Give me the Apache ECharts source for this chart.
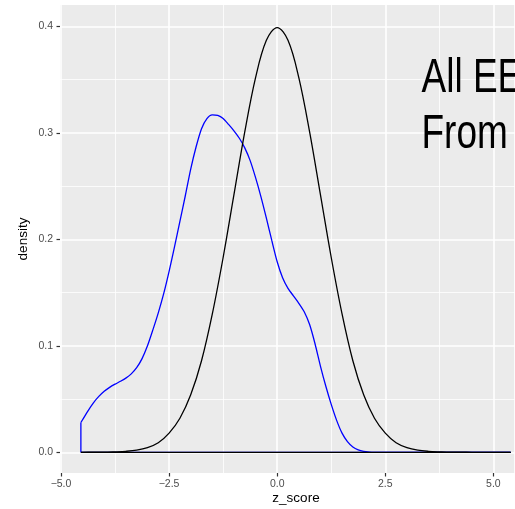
<!DOCTYPE html>
<html>
<head>
<meta charset="utf-8">
<script src="https://cdn.jsdelivr.net/npm/echarts@6/dist/echarts.min.js"></script>
<style>
html,body{margin:0;padding:0;background:#fff;}
#c{width:515px;height:509px;}
</style>
</head>
<body>
<div id="c"></div>
<script>
// black density curve: z_score positions and read densities
var blackZ = [-4.54, -4.25, -4, -3.75, -3.5, -3.25, -3, -2.75, -2.5, -2.25, -2, -1.75, -1.5, -1.25, -1, -0.75, -0.5, -0.25, 0, 0.25, 0.5, 0.75, 1, 1.25, 1.5, 1.75, 2, 2.25, 2.5, 2.75, 3, 3.25, 3.5, 3.75, 4, 4.25, 4.5, 4.75, 5, 5.25, 5.4];
var blackDensity = [0, 0.0001, 0.0001, 0.0004, 0.0009, 0.002, 0.0044, 0.009, 0.018, 0.032, 0.054, 0.086, 0.130, 0.183, 0.242, 0.301, 0.352, 0.387, 0.399, 0.387, 0.352, 0.301, 0.242, 0.183, 0.130, 0.086, 0.054, 0.032, 0.018, 0.009, 0.0044, 0.002, 0.0009, 0.0004, 0.0001, 0.0001, 0, 0, 0, 0, 0];
// blue density curve: z_score positions and read densities
var blueZ = [-4.54, -4.375, -4.25, -4.125, -4, -3.875, -3.75, -3.625, -3.5, -3.375, -3.25, -3.125, -3, -2.875, -2.75, -2.625, -2.5, -2.375, -2.25, -2.125, -2, -1.875, -1.75, -1.625, -1.5, -1.375, -1.25, -1.125, -1, -0.875, -0.75, -0.625, -0.5, -0.375, -0.25, -0.125, 0, 0.125, 0.25, 0.375, 0.5, 0.625, 0.75, 0.875, 1, 1.125, 1.25, 1.375, 1.5, 1.625, 1.75, 1.875, 2, 2.125, 2.25, 2.5, 5.4];
var blueDensity = [0.028, 0.039, 0.0465, 0.0525, 0.0573, 0.061, 0.064, 0.0667, 0.0697, 0.0737, 0.0795, 0.088, 0.100, 0.115, 0.131, 0.149, 0.170, 0.193, 0.217, 0.241, 0.266, 0.287, 0.304, 0.3135, 0.317, 0.3165, 0.3135, 0.308, 0.302, 0.295, 0.286, 0.274, 0.258, 0.240, 0.220, 0.199, 0.179, 0.164, 0.154, 0.147, 0.140, 0.132, 0.120, 0.102, 0.081, 0.062, 0.045, 0.030, 0.018, 0.010, 0.005, 0.0022, 0.0008, 0.0002, 0, 0, 0];
// tick labels
var xTicks = [-5, -2.5, 0, 2.5, 5];
var yTicks = [0, 0.1, 0.2, 0.3, 0.4];
var annotationLines = ['All EE', 'From'];

var FONT = '"Liberation Sans", Arial, Helvetica, sans-serif';

function pairs(xs, ys) { return xs.map(function (x, i) { return [x, ys[i]]; }); }
var x0 = blueZ[0], xN = blackZ[blackZ.length - 1];

var chart = echarts.init(document.getElementById('c'), null, {renderer: 'canvas'});

var tickLabel = {color: '#4D4D4D', fontSize: 10.5, fontFamily: FONT};

var option = {
  animation: false,
  backgroundColor: '#ffffff',
  grid: [
    {left: 60, right: 0, top: 5, bottom: 36, containLabel: false, outerBoundsMode: 'none'},
    {left: 61, right: 0, top: 5, bottom: 36, containLabel: false, outerBoundsMode: 'none'},
    {left: 60, right: 0, top: 26.5, bottom: 56.7, containLabel: false, outerBoundsMode: 'none'}
  ],
  xAxis: [
    {type: 'value', gridIndex: 0, min: -5.023, max: 5.5, show: false},
    {type: 'value', gridIndex: 1, min: xTicks[0], max: 5.5, interval: xTicks[1] - xTicks[0],
      axisLine: {show: false, onZero: false},
      axisTick: {show: true, length: 3.5, lineStyle: {color: '#333333', width: 1.2}},
      axisLabel: Object.assign({margin: 6, showMaxLabel: false, formatter: function (v) { return v.toFixed(1).replace('-', '\u2212'); }}, tickLabel),
      splitLine: {show: true, lineStyle: {color: '#FFFFFF', width: 1.6}},
      minorTick: {show: false, splitNumber: 2},
      minorSplitLine: {show: true, lineStyle: {color: '#FFFFFF', width: 0.8}}
    },
    {type: 'value', gridIndex: 2, min: -5.023, max: 5.5, show: false}
  ],
  yAxis: [
    {type: 'value', gridIndex: 0, min: -0.01945, max: 0.4202, show: false},
    {type: 'value', gridIndex: 1, min: -0.01945, max: 0.4202, show: false},
    {type: 'value', gridIndex: 2, min: yTicks[0], max: yTicks[yTicks.length - 1], interval: yTicks[1] - yTicks[0],
      axisLine: {show: false, onZero: false},
      axisTick: {show: true, length: 3.5, lineStyle: {color: '#333333', width: 1.2}},
      axisLabel: Object.assign({margin: 7, formatter: function (v) { return v.toFixed(1); }}, tickLabel),
      splitLine: {show: true, lineStyle: {color: '#FFFFFF', width: 1.6}},
      minorTick: {show: false, splitNumber: 2},
      minorSplitLine: {show: true, lineStyle: {color: '#FFFFFF', width: 0.8}}
    }
  ],
  graphic: [
    {type: 'rect', z: -100, silent: true, shape: {x: 60, y: 5, width: 455, height: 468}, style: {fill: '#EBEBEB'}},
    {type: 'text', z: 100, x: 296, y: 498.6, silent: true,
      style: {text: 'z_score', fontSize: 13.5, fontFamily: FONT, fill: '#000000', textAlign: 'center', textVerticalAlign: 'middle'}},
    {type: 'text', z: 100, x: 23.6, y: 239, rotation: Math.PI / 2, silent: true,
      style: {text: 'density', fontSize: 13.5, fontFamily: FONT, fill: '#000000', textAlign: 'center', textVerticalAlign: 'middle'}},
    {type: 'text', z: 100, x: 421.5, y: 78, scaleX: 0.755, silent: true,
      style: {text: annotationLines[0], fontSize: 49, fontFamily: FONT, fill: '#000000', textAlign: 'left', textVerticalAlign: 'middle'}},
    {type: 'text', z: 100, x: 421.5, y: 134.7, scaleX: 0.755, silent: true,
      style: {text: annotationLines[1], fontSize: 49, fontFamily: FONT, fill: '#000000', textAlign: 'left', textVerticalAlign: 'middle'}}
  ],
  series: [
    {type: 'line', xAxisIndex: 0, yAxisIndex: 0, data: pairs(blueZ, blueDensity), smooth: 0.25,
      symbol: 'none', lineStyle: {color: '#0000FF', width: 1.3}, z: 3},
    {type: 'line', xAxisIndex: 0, yAxisIndex: 0, data: [[x0, 0], [x0, blueDensity[0]]],
      symbol: 'none', lineStyle: {color: '#0000FF', width: 1.3}, z: 3},
    {type: 'line', xAxisIndex: 0, yAxisIndex: 0, data: [[x0, 0], [xN, 0]],
      symbol: 'none', lineStyle: {color: '#0000FF', width: 1.3}, z: 3},
    {type: 'line', xAxisIndex: 0, yAxisIndex: 0, data: pairs(blackZ, blackDensity), smooth: 0.35,
      symbol: 'none', lineStyle: {color: '#000000', width: 1.3}, z: 4},
    {type: 'line', xAxisIndex: 0, yAxisIndex: 0, data: [[x0, 0], [xN, 0]],
      symbol: 'none', lineStyle: {color: '#000000', width: 1.3}, z: 4}
  ]
};
chart.setOption(option);
</script>
</body>
</html>
